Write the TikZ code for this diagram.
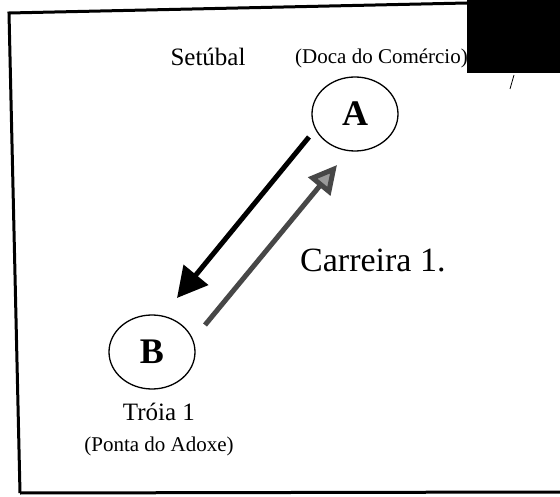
\documentclass[tikz,border=0pt]{standalone}
\usepackage{fontspec}
\setmainfont{Liberation Serif}
\usetikzlibrary{shapes,arrows.meta}
\tikzset{%
	port/.style     = {draw, ellipse, line width = 1.3pt, minimum width = 86pt,
		minimum height = 74pt, inner sep = 0pt,
		font = \fontsize{36}{36}\selectfont\bfseries}, % Terminal
	place/.style    = {font = \fontsize{25}{25}\selectfont, inner sep = 0pt}, % Name
	sub/.style      = {font = \fontsize{21}{21}\selectfont, inner sep = 0pt}, % Detail
	route/.style    = {line width = 5pt, -{Triangle[length=30pt,width=31pt]}},
	frame/.style    = {line width = 3pt}
}

\begin{document}
\begin{tikzpicture}[x=1pt,y=-1pt]
			\useasboundingbox (0,0) rectangle (560,497);
			\draw[frame] (20,493) -- (9,13) -- (467,3);
			\draw[frame] (20,493) -- (560,492);
			\fill (467,0) rectangle (560,73);
			\draw[line width=0.8pt] (514,75) -- (510,89);

			\node[port] (A) at (355,114) {A};
			\node[port] (B) at (152,352) {B};
			\node[place] (set) at (208,57) {Setúbal};
			\node[sub, anchor=east] (doca) at (468,58) {(Doca do Comércio)};
			\node[place] (troia) at (159,412) {Tróia 1};
			\node[sub] (adoxe) at (159,446) {(Ponta do Adoxe)};
			\node[font=\fontsize{34}{34}\selectfont, inner sep=0pt, anchor=west] (carr) at (300,260) {Carreira 1.};

			\coordinate (a1) at (309,137);
			\coordinate (b1) at (177,298);
			\coordinate (b2) at (205,325);
			\coordinate (a2) at (337,165);
			\draw[route] (a1) -- (b1);
			\draw[route, black!72, -{Triangle[length=28pt,width=28pt,fill=black!40]}] (b2) -- (a2);
		\end{tikzpicture}
\end{document}
